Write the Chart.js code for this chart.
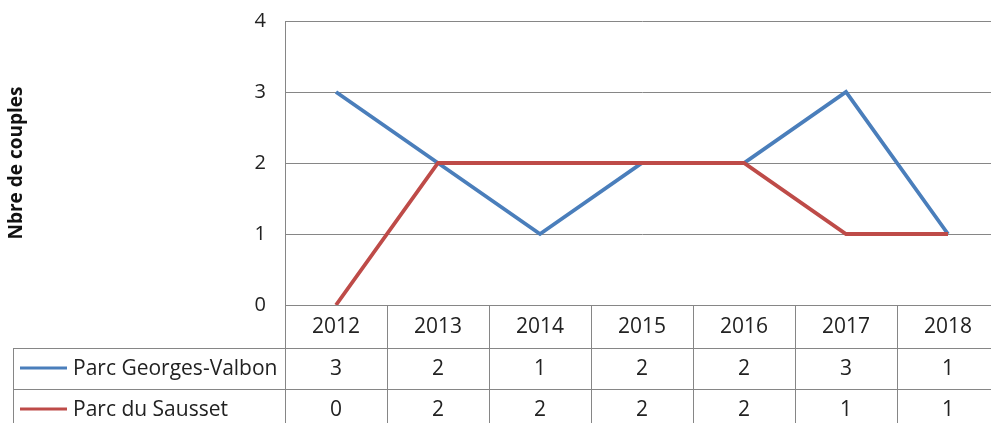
<!DOCTYPE html>
<html>
<head>
<meta charset="utf-8">
<script src="https://cdn.jsdelivr.net/npm/chart.js@4.4.0/dist/chart.umd.min.js"></script>
<style>
  body { margin: 0; background: #fff; }
  #wrap { width: 991px; height: 423px; overflow: hidden; }
</style>
</head>
<body>
<div id="wrap"><canvas id="myChart" width="1000" height="423"></canvas></div>
<script>
// data
var years = ['2012', '2013', '2014', '2015', '2016', '2017', '2018'];
var georgesValbon = [3, 2, 1, 2, 2, 3, 1];
var sausset = [0, 2, 2, 2, 2, 1, 1];
var seriesNames = ['Parc Georges-Valbon', 'Parc du Sausset'];
var seriesColors = ['#4A7EBB', '#BE4B48'];
var yTicks = [0, 1, 2, 3, 4];

var FONT = '"Open Sans", sans-serif';
var GRID = '#868686';

// draws the excel style data table under the plot
var dataTable = {
    id: 'dataTable',
    afterDraw: function (chart) {
        var ctx = chart.ctx;
        var area = chart.chartArea;
        var xs = chart.scales.x;
        var half = (xs.getPixelForValue(1) - xs.getPixelForValue(0)) / 2;
        var top = area.bottom;
        var row1 = top + 43, row2 = row1 + 41, row3 = row2 + 41;
        var labelLeft = 13;
        var allSeries = [georgesValbon, sausset];

        ctx.save();
        ctx.strokeStyle = GRID;
        ctx.lineWidth = 1;
        ctx.beginPath();
        // horizontal lines
        ctx.moveTo(area.left, Math.round(top) + 0.5);
        ctx.lineTo(area.right, Math.round(top) + 0.5);
        [row1, row2, row3].forEach(function (y) {
            ctx.moveTo(labelLeft, Math.round(y) + 0.5);
            ctx.lineTo(area.right, Math.round(y) + 0.5);
        });
        // vertical lines
        for (var i = 0; i <= years.length; i++) {
            var x = Math.round(xs.getPixelForValue(0) - half + i * half * 2) + 0.5;
            ctx.moveTo(x, top);
            ctx.lineTo(x, row3);
        }
        ctx.moveTo(labelLeft + 0.5, row1);
        ctx.lineTo(labelLeft + 0.5, row3);
        ctx.stroke();

        ctx.fillStyle = '#222';
        ctx.font = '21px ' + FONT;
        ctx.textAlign = 'center';
        ctx.textBaseline = 'middle';
        years.forEach(function (yr, i) {
            var cx = xs.getPixelForValue(i);
            ctx.fillText(yr, cx, (top + row1) / 2 + 1);
            ctx.fillText(String(allSeries[0][i]), cx, (row1 + row2) / 2 + 1);
            ctx.fillText(String(allSeries[1][i]), cx, (row2 + row3) / 2 + 1);
        });

        // series keys
        ctx.textAlign = 'left';
        [row1, row2].forEach(function (y, s) {
            var cy = y + 20;
            ctx.strokeStyle = seriesColors[s];
            ctx.lineWidth = 3;
            ctx.beginPath();
            ctx.moveTo(20, cy);
            ctx.lineTo(67, cy);
            ctx.stroke();
            ctx.fillText(seriesNames[s], 73, cy + 1);
        });
        ctx.restore();
    }
};

var ctx = document.getElementById('myChart');
var chart = new Chart(ctx, {
    type: 'line',
    data: {
        labels: years,
        datasets: [{
            label: seriesNames[0],
            data: georgesValbon,
            borderColor: seriesColors[0],
            borderWidth: 3.8,
            pointRadius: 0,
            order: 1
        }, {
            label: seriesNames[1],
            data: sausset,
            borderColor: seriesColors[1],
            borderWidth: 3.8,
            pointRadius: 0,
            order: 0
        }]
    },
    options: {
        responsive: false,
        animation: false,
        layout: { padding: { left: 0, top: 21, right: 1, bottom: 118 } },
        plugins: {
            legend: { display: false },
            tooltip: { enabled: false }
        },
        scales: {
            x: {
                display: false,
                offset: true
            },
            y: {
                min: yTicks[0],
                max: yTicks[yTicks.length - 1],
                afterBuildTicks: function (scale) {
                    scale.ticks = yTicks.map(function (v) { return { value: v }; });
                },
                afterFit: function (scale) {
                    scale.width = 285;
                    scale.paddingTop = 0;
                    scale.paddingBottom = 0;
                },
                grid: { color: GRID, drawTicks: false },
                border: { color: GRID },
                ticks: {
                    padding: 19,
                    color: '#222',
                    font: { family: FONT, size: 20 }
                },
                title: {
                    display: true,
                    text: 'Nbre de couples',
                    color: '#111',
                    padding: { top: 5, bottom: 0 },
                    font: { family: FONT, size: 19, weight: 'bold' }
                }
            }
        }
    },
    plugins: [dataTable]
});
</script>
</body>
</html>
